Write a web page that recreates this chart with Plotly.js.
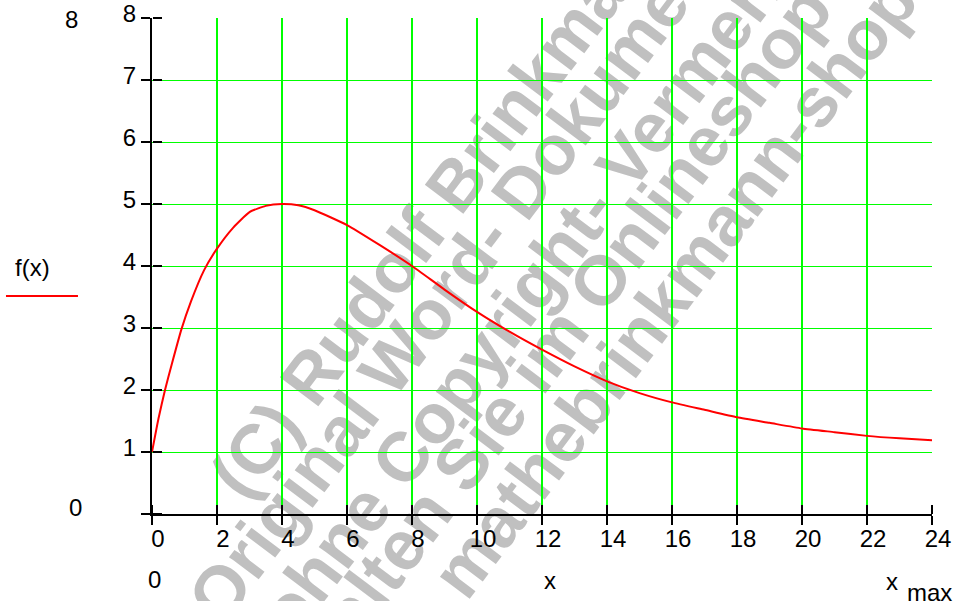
<!DOCTYPE html>
<html>
<head>
<meta charset="utf-8">
<script src="https://cdn.plot.ly/plotly-3.0.1.min.js"></script>
<style>html,body{margin:0;padding:0;background:#fff}#chart{width:959px;height:601px}</style>
</head>
<body>
<div id="chart"></div>
<script>
// ---- data ----
const xValues = [0, 0.2, 0.4, 0.6, 0.9, 1.2, 1.6, 2, 2.5, 3, 3.5, 4, 4.5, 5, 6, 7, 8, 9, 10, 11, 12, 13, 14, 15, 16, 17, 18, 19, 20, 21, 22, 23, 24];
const fValues = [1.0, 1.54, 2.0, 2.4, 2.97, 3.43, 3.93, 4.28, 4.62, 4.87, 4.97, 5.0, 4.98, 4.9, 4.66, 4.34, 4.0, 3.62, 3.26, 2.94, 2.65, 2.38, 2.14, 1.95, 1.8, 1.68, 1.56, 1.47, 1.38, 1.32, 1.26, 1.22, 1.19];
const xTickVals = [0, 2, 4, 6, 8, 10, 12, 14, 16, 18, 20, 22, 24];
const xTickText = ['0', '2', '4', '6', '8', '10', '12', '14', '16', '18', '20', '22', '24'];
const yTickVals = [0, 1, 2, 3, 4, 5, 6, 7, 8];
const yTickText = ['', '1', '2', '3', '4', '5', '6', '7', '8'];
const xRange = [0, 24];
const yRange = [0, 8];
const yMaxLabel = '8';
const yMinLabel = '0';
const xMinLabel = '0';
const xNameLabel = 'x';
const xMaxLabel = 'x';
const xMaxSub = 'max';
const seriesName = 'f(x)';
const watermarkLines = ['(C) Rudolf Brinkmann', 'Original Word- Dokument', 'ohne Copyright- Vermerk', 'erhalten Sie im Onlineshop', 'mathebrinkmann-shop'];
const watermarkPos = [[0.367, 0.642], [0.386, 0.492], [0.473, 0.454], [0.496, 0.329], [0.663, 0.466]];

const FONT = 'Liberation Sans, Arial, sans-serif';
const GREEN = 'rgb(0,255,0)';

const traces = [
  {x: xValues, y: fValues, type: 'scatter', mode: 'lines', line: {color: '#ff0000', width: 2, shape: 'spline', smoothing: 0.5}, hoverinfo: 'skip', showlegend: false},
  {x: xValues, y: fValues, xaxis: 'x2', yaxis: 'y2', type: 'scatter', mode: 'lines', opacity: 0, line: {width: 0}, hoverinfo: 'skip', showlegend: false}
];

const baseAx = {
  tickcolor: '#000', tickwidth: 1.5, ticklen: 9, ticks: 'outside',
  zeroline: false, fixedrange: true,
  tickfont: {family: FONT, size: 24, color: '#000'}
};

const shapes = watermarkLines.map((t, i) => ({
  type: 'rect', xref: 'paper', yref: 'paper', layer: 'below',
  x0: watermarkPos[i][0] - 0.0005, x1: watermarkPos[i][0] + 0.0005,
  y0: watermarkPos[i][1] - 0.0005, y1: watermarkPos[i][1] + 0.0005,
  line: {width: 0}, fillcolor: 'rgba(0,0,0,0)',
  label: {text: '<b>' + t + '</b>', textposition: 'middle center', textangle: -53,
          font: {family: FONT, size: 70, color: '#c0c0c0'}}
}));
shapes.push({type: 'line', xref: 'paper', yref: 'paper', x0: -0.1872, x1: -0.0949, y0: 0.4395, y1: 0.4395, line: {color: '#ff0000', width: 2}});

const ann = (text, x, y, size, xa) => ({text, x, y, xref: 'paper', yref: 'paper', showarrow: false, xanchor: xa || 'center', yanchor: 'middle', font: {family: FONT, size: size || 24, color: '#000'}});

const layout = {
  width: 959, height: 601,
  margin: {l: 152, r: 27, t: 18, b: 87},
  paper_bgcolor: '#fff', plot_bgcolor: '#fff',
  showlegend: false,
  xaxis: Object.assign({}, baseAx, {range: xRange, tickvals: xTickVals, ticktext: xTickText, showline: true, linecolor: '#000', linewidth: 2, showgrid: true, gridcolor: GREEN, gridwidth: 1.3, ticklabelshift: 6, ticklabelstandoff: -7}),
  yaxis: Object.assign({}, baseAx, {range: yRange, tickvals: yTickVals, ticktext: yTickText, showline: true, linecolor: '#000', linewidth: 2, showgrid: true, gridcolor: GREEN, gridwidth: 1, ticklabelshift: -4}),
  xaxis2: Object.assign({}, baseAx, {range: xRange, tickvals: xTickVals, overlaying: 'x', anchor: 'free', position: 0, side: 'top', showticklabels: false, showgrid: false, showline: false}),
  yaxis2: Object.assign({}, baseAx, {range: yRange, tickvals: yTickVals, overlaying: 'y', anchor: 'free', position: 0, side: 'right', showticklabels: false, showgrid: false, showline: false}),
  shapes: shapes,
  annotations: [
    ann(yMaxLabel, -0.1038, 0.996),
    ann(yMinLabel, -0.0987, 0.014),
    ann(seriesName, -0.1526, 0.496),
    ann(xMinLabel, 0.0038, -0.133),
    ann(xNameLabel, 0.510, -0.135),
    ann(xMaxLabel, 0.949, -0.137),
    ann(xMaxSub, 0.997, -0.159)
  ]
};

Plotly.newPlot('chart', traces, layout, {staticPlot: true, displayModeBar: false});
</script>
</body>
</html>
